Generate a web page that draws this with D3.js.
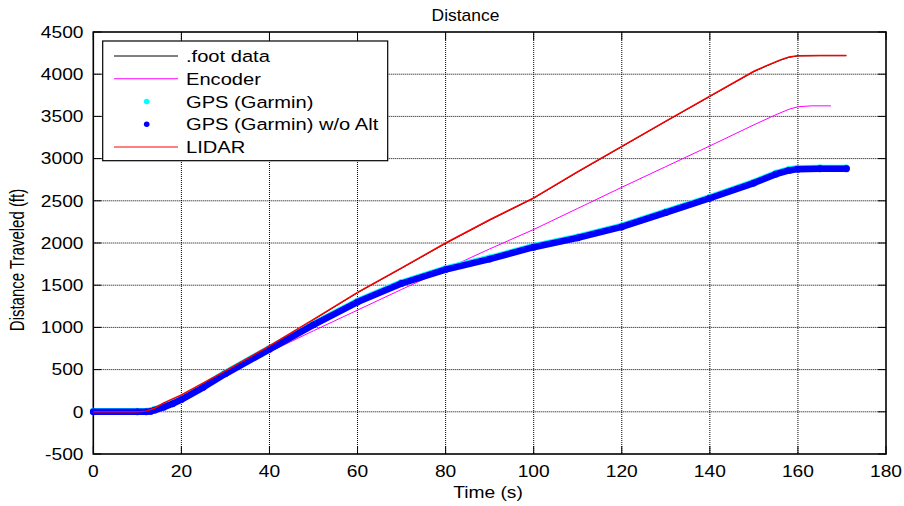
<!DOCTYPE html>
<html>
<head>
<meta charset="utf-8">
<script src="https://cdn.jsdelivr.net/npm/d3@7"></script>
<style>
  html, body { margin: 0; padding: 0; background: #fff; }
  svg { display: block; font-family: "Liberation Sans", Arial, sans-serif; }
</style>
</head>
<body>
<div id="chart"></div>
<script>
// values
const footTime = [0, 10, 12, 14, 16, 20, 30, 40, 50, 60, 70, 80, 90, 100, 110, 120, 130, 140, 150, 153, 156, 158, 160, 165, 171];
const footDist = [0, 0, 5, 40, 100, 195, 480, 775, 1090, 1410, 1700, 1995, 2270, 2530, 2840, 3140, 3440, 3735, 4030, 4100, 4165, 4200, 4217, 4220, 4220];
const lidarDist = [0, 0, 8, 45, 105, 200, 485, 780, 1095, 1415, 1705, 2000, 2275, 2535, 2845, 3145, 3445, 3740, 4035, 4105, 4170, 4205, 4220, 4222, 4222];

const encTime = [0, 10, 12, 14, 16, 20, 30, 40, 50, 60, 70, 80, 90, 100, 110, 120, 130, 140, 150, 155, 158, 160, 163, 167.5];
const encDist = [0, 0, 5, 35, 85, 175, 440, 710, 960, 1205, 1450, 1690, 1930, 2160, 2410, 2660, 2905, 3150, 3400, 3520, 3585, 3614, 3625, 3625];

const gpsTime = [0, 10, 12, 13, 14, 16, 18, 20, 25, 30, 40, 50, 60, 70, 80, 90, 100, 110, 120, 130, 140, 150, 155, 158, 160, 165, 171];
const gpsDist = [8, 8, 8, 13, 30, 66, 106, 156, 302, 462, 752, 1042, 1312, 1532, 1697, 1822, 1962, 2072, 2202, 2372, 2542, 2722, 2827, 2872, 2887, 2890, 2890];
const gpsNoAltDist = [0, 0, 0, 5, 20, 55, 95, 145, 290, 450, 740, 1030, 1300, 1520, 1685, 1810, 1950, 2060, 2190, 2360, 2530, 2710, 2815, 2860, 2875, 2880, 2880];

const xTicks = [0, 20, 40, 60, 80, 100, 120, 140, 160, 180];
const yTicks = [-500, 0, 500, 1000, 1500, 2000, 2500, 3000, 3500, 4000, 4500];
const legendLabels = ['.foot data', 'Encoder', 'GPS (Garmin)', 'GPS (Garmin) w/o Alt', 'LIDAR'];

const W = 904, H = 506;
const LEFT = 93.3, RIGHT = 886, TOP = 32, BOTTOM = 454;

const svg = d3.select('#chart').append('svg').attr('width', W).attr('height', H);

const x = d3.scaleLinear().domain([0, 180]).range([LEFT, RIGHT]);
const y = d3.scaleLinear().domain([-500, 4500]).range([BOTTOM, TOP]);

// text in the reference is stretched sideways, so scale each label in x
function label(g, txt, px, py, size, sx, anchor, rot) {
  return g.append('text')
    .attr('transform', `translate(${px},${py}) scale(${sx},1)` + (rot ? ` rotate(${rot})` : ''))
    .attr('text-anchor', anchor)
    .attr('font-size', size)
    .attr('fill', '#000')
    .text(txt);
}

// grid
const grid = svg.append('g');
grid.selectAll('line.gx')
  .data(xTicks.slice(1, -1))
  .join('line')
  .attr('x1', d => x(d)).attr('x2', d => x(d))
  .attr('y1', TOP).attr('y2', BOTTOM)
  .attr('stroke', '#000').attr('stroke-width', 1)
  .attr('stroke-dasharray', '1,1');
grid.selectAll('line.gy')
  .data(yTicks.slice(1, -1))
  .join('line')
  .attr('x1', LEFT).attr('x2', RIGHT)
  .attr('y1', d => y(d)).attr('y2', d => y(d))
  .attr('stroke', '#000').attr('stroke-width', 1)
  .attr('stroke-dasharray', '1,1');

// ticks inside on all four sides
const tickLen = 8;
const ticks = svg.append('g').attr('stroke', '#000').attr('stroke-width', 1);
xTicks.forEach(t => {
  ticks.append('line').attr('x1', x(t)).attr('x2', x(t)).attr('y1', BOTTOM).attr('y2', BOTTOM - tickLen);
  ticks.append('line').attr('x1', x(t)).attr('x2', x(t)).attr('y1', TOP).attr('y2', TOP + tickLen);
});
yTicks.forEach(t => {
  ticks.append('line').attr('x1', LEFT).attr('x2', LEFT + tickLen).attr('y1', y(t)).attr('y2', y(t));
  ticks.append('line').attr('x1', RIGHT).attr('x2', RIGHT - tickLen).attr('y1', y(t)).attr('y2', y(t));
});

// box
svg.append('rect')
  .attr('x', LEFT).attr('y', TOP)
  .attr('width', RIGHT - LEFT).attr('height', BOTTOM - TOP)
  .attr('fill', 'none').attr('stroke', '#000').attr('stroke-width', 1.6);

// tick labels
const labels = svg.append('g');
xTicks.forEach(t => label(labels, t, x(t), 477, 16, 1.2, 'middle'));
yTicks.forEach(t => label(labels, t, 83.5, y(t) + 5.7, 16, 1.2, 'end'));

label(svg, 'Distance', 465.5, 20.7, 16, 1.09, 'middle');
label(svg, 'Time (s)', 488, 497.5, 16, 1.2, 'middle');
label(svg, 'Distance Traveled (ft)', 24, 260, 15, 1.3, 'middle', -90);

// series
const line = d3.line().x(d => x(d[0])).y(d => y(d[1]));
const pairs = (ts, vs) => ts.map((t, i) => [t, vs[i]]);

const plot = svg.append('g');
plot.append('path')
  .attr('d', line(pairs(footTime, footDist)))
  .attr('fill', 'none').attr('stroke', '#000').attr('stroke-width', 1);
plot.append('path')
  .attr('d', line(pairs(encTime, encDist)))
  .attr('fill', 'none').attr('stroke', '#ff00ff').attr('stroke-width', 1);

function dots(vs, color) {
  const pts = pairs(gpsTime, vs);
  plot.append('path')
    .attr('d', line(pts))
    .attr('fill', 'none').attr('stroke', color)
    .attr('stroke-width', 6.5)
    .attr('stroke-linecap', 'round').attr('stroke-linejoin', 'round');
  plot.append('g').selectAll('circle')
    .data(pts)
    .join('circle')
    .attr('cx', d => x(d[0])).attr('cy', d => y(d[1]))
    .attr('r', 3.4).attr('fill', color);
}
dots(gpsDist, '#00ffff');
dots(gpsNoAltDist, '#0000ff');

plot.append('path')
  .attr('d', line(pairs(footTime, lidarDist)))
  .attr('fill', 'none').attr('stroke', '#ff0000').attr('stroke-width', 1.5);

// legend
const lg = svg.append('g');
lg.append('rect')
  .attr('x', 102.7).attr('y', 41)
  .attr('width', 285).attr('height', 119.7)
  .attr('fill', '#fff').attr('stroke', '#000').attr('stroke-width', 1.2);

const legendStyles = [
  { kind: 'line', color: '#000' },
  { kind: 'line', color: '#ff00ff' },
  { kind: 'dot', color: '#00ffff' },
  { kind: 'dot', color: '#0000ff' },
  { kind: 'line', color: '#ff0000' }
];
legendLabels.forEach((name, i) => {
  const ry = 56 + i * 22.75;
  const s = legendStyles[i];
  if (s.kind === 'line') {
    lg.append('line')
      .attr('x1', 114).attr('x2', 178).attr('y1', ry).attr('y2', ry)
      .attr('stroke', s.color).attr('stroke-width', 1);
  } else {
    lg.append('circle').attr('cx', 146.7).attr('cy', ry).attr('r', 2.8).attr('fill', s.color);
  }
  label(lg, name, 186, ry + 6, 16.5, 1.22, 'start');
});
</script>
</body>
</html>
